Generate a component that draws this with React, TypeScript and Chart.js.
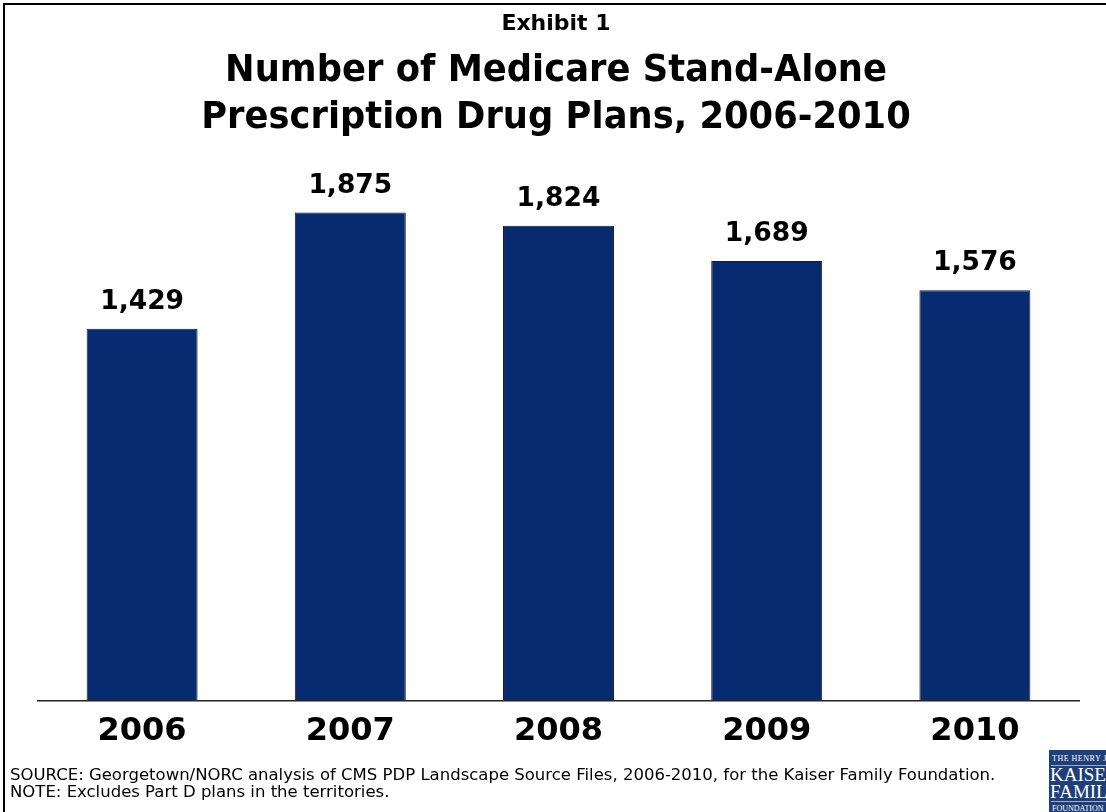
import React, { useEffect, useRef } from "react";
import { Chart, registerables } from "chart.js";

Chart.register(...registerables);

const categories = ["2006", "2007", "2008", "2009", "2010"];
const planCounts = [1429, 1875, 1824, 1689, 1576];
const valueLabels = ["1,429", "1,875", "1,824", "1,689", "1,576"];

const FONT = "'DejaVu Sans', Verdana, sans-serif";

const valueLabelPlugin = {
  id: "valueLabels",
  afterDatasetsDraw(chart: any) {
    const ctx = chart.ctx;
    const meta = chart.getDatasetMeta(0);
    ctx.save();
    ctx.font = `bold 26.5px ${FONT}`;
    ctx.fillStyle = "#000";
    ctx.textAlign = "center";
    ctx.textBaseline = "alphabetic";
    meta.data.forEach((bar: any, i: number) => {
      ctx.fillText(valueLabels[i], bar.x, bar.y - 20);
    });
    ctx.restore();
  },
};

function BarChart() {
  const ref = useRef<HTMLCanvasElement>(null);
  useEffect(() => {
    if (!ref.current) return;
    const chart = new Chart(ref.current, {
      type: "bar",
      data: {
        labels: categories,
        datasets: [
          {
            data: planCounts,
            backgroundColor: "#082A70",
            borderColor: "#1a1a1a",
            borderWidth: 1,
            categoryPercentage: 1,
            barPercentage: 0.533,
          },
        ],
      },
      options: {
        animation: false,
        responsive: false,
        maintainAspectRatio: false,
        layout: { padding: { top: 180, bottom: 49, left: 38, right: 27 } },
        plugins: { legend: { display: false }, tooltip: { enabled: false }, title: { display: false } },
        scales: {
          x: {
            grid: { display: false, drawTicks: false },
            border: { display: true, color: "#222", width: 1.5 },
            ticks: {
              color: "#000",
              padding: 12,
              font: { family: FONT, size: 32, weight: "bold" },
            },
          },
          y: { display: false, min: 0, max: 2000 },
        },
      },
      plugins: [valueLabelPlugin],
    });
    return () => chart.destroy();
  }, []);
  return (
    <canvas
      ref={ref}
      width={1106}
      height={812}
      style={{ position: "absolute", left: 0, top: 0, width: 1106, height: 812 }}
    />
  );
}

export default function App() {
  return (
    <div
      style={{
        position: "fixed",
        left: 0,
        top: 0,
        width: 1106,
        height: 812,
        background: "#fff",
        overflow: "hidden",
        fontFamily: FONT,
      }}
    >
      <div
        style={{
          position: "absolute",
          left: 3,
          top: 3,
          width: 1200,
          height: 900,
          borderTop: "2px solid #000",
          borderLeft: "2px solid #000",
        }}
      />
      <BarChart />
      <div
        style={{
          position: "absolute",
          left: 0,
          width: 1106,
          top: 10,
          textAlign: "center",
          fontWeight: "bold",
          fontSize: 22,
          color: "#000",
          paddingLeft: 3,
        }}
      >
        Exhibit 1
      </div>
      <div
        style={{
          position: "absolute",
          left: 0,
          width: 1106,
          top: 45,
          textAlign: "center",
          fontWeight: "bold",
          fontSize: 38,
          lineHeight: "47px",
          color: "#000",
          paddingLeft: 3,
          transform: "scaleX(0.93)",
          transformOrigin: "556px 0",
        }}
      >
        Number of Medicare Stand-Alone
        <br />
        Prescription Drug Plans, 2006-2010
      </div>
      <div
        style={{
          position: "absolute",
          left: 10,
          top: 766,
          fontSize: 16.5,
          lineHeight: "17px",
          color: "#000",
          whiteSpace: "nowrap",
        }}
      >
        SOURCE: Georgetown/NORC analysis of CMS PDP Landscape Source Files, 2006-2010, for the Kaiser Family Foundation.
        <br />
        NOTE: Excludes Part D plans in the territories.
      </div>
      <div
        style={{
          position: "absolute",
          left: 1049,
          top: 750,
          width: 80,
          height: 62,
          background: "#1F3F78",
          color: "#fff",
          fontFamily: "'Liberation Serif', 'DejaVu Serif', serif",
          overflow: "hidden",
          whiteSpace: "nowrap",
        }}
      >
        <div style={{ fontSize: 8, lineHeight: "9px", marginTop: 4, marginLeft: 3, letterSpacing: 0.5 }}>THE HENRY J.</div>
        <div style={{ borderTop: "1px solid #9fb0cc", margin: "2px 0 0 2px" }} />
        <div style={{ fontSize: 19, lineHeight: "17px", marginLeft: 1 }}>KAISER</div>
        <div style={{ fontSize: 19, lineHeight: "17px", marginLeft: 1 }}>FAMILY</div>
        <div style={{ borderTop: "1px solid #9fb0cc", margin: "1px 0 0 2px" }} />
        <div style={{ fontSize: 8, lineHeight: "9px", marginTop: 2, marginLeft: 3 }}>FOUNDATION</div>
      </div>
    </div>
  );
}
